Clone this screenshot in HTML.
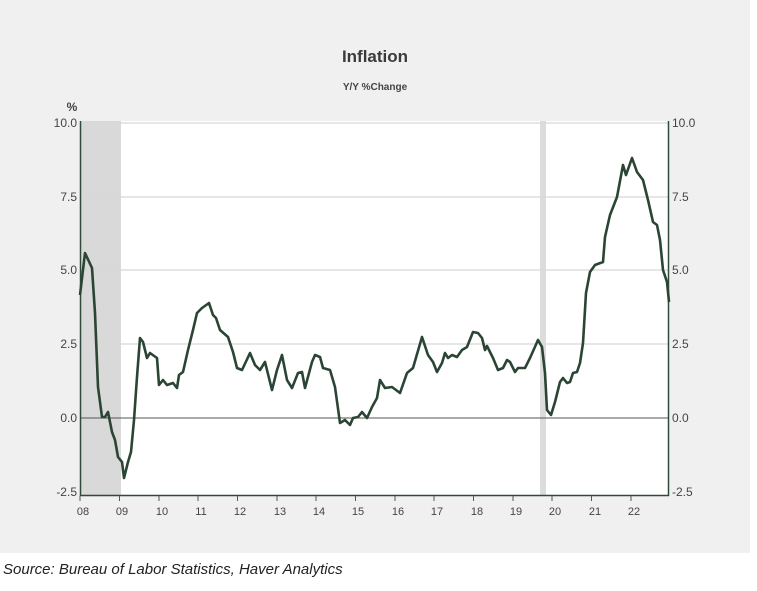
<!DOCTYPE html>
<html><head><style>
body{margin:0;background:#fff;width:757px;height:586px;overflow:hidden;font-family:"Liberation Sans",sans-serif}
</style></head><body>
<svg width="757" height="586" xmlns="http://www.w3.org/2000/svg" font-family="Liberation Sans, DejaVu Sans, sans-serif">
<rect x="0" y="0" width="750" height="553" fill="#f0f0f0"/>
<rect x="80" y="121" width="588" height="374" fill="#fff"/>
<rect x="81" y="121" width="40" height="374" fill="#d9d9d9"/>
<rect x="540" y="121" width="6" height="374" fill="#dcdcdc"/>
<g stroke="#d8d8d8" stroke-width="1.2">
<line x1="80" y1="123" x2="668" y2="123"/><line x1="80" y1="197" x2="668" y2="197"/>
<line x1="80" y1="270" x2="668" y2="270"/><line x1="80" y1="344" x2="668" y2="344"/>
</g>
<line x1="80" y1="418" x2="668" y2="418" stroke="#555" stroke-width="1"/>
<g stroke="#2f4a3a" stroke-width="1.5">
<line x1="80.5" y1="121" x2="80.5" y2="496"/><line x1="668.5" y1="121" x2="668.5" y2="496"/>
<line x1="80" y1="495.5" x2="669" y2="495.5"/>
</g>
<g stroke="#555" stroke-width="1">
<path d="M80 496v5M119.5 496v5M159 496v5M198 496v5M237.5 496v5M277 496v5M316 496v5M355.5 496v5M395 496v5M434 496v5M473.5 496v5M513 496v5M552 496v5M591.5 496v5M631 496v5"/>
</g>
<polyline fill="none" stroke="#2b4535" stroke-width="2.6" stroke-linejoin="round" points="80,295 85,253 92,268 95,313 98,387 102,417 105,417 108,412 112,432 115,440 118,457 122,462 124,478 128,462 131,452 134,420 137,377 140,338 143,342 147,358 150,353 157,358 159,385 163,380 167,385 173,383 177,388 179,375 183,372 188,350 193,330 197,313 202,308 209,303 213,315 216,318 220,330 228,337 233,352 237,368 242,370 250,353 255,365 260,370 265,362 272,390 277,370 282,355 287,380 292,388 298,373 302,372 305,388 312,362 315,355 320,357 323,368 330,370 335,387 340,423 345,420 350,425 353,418 358,417 362,412 367,418 372,407 377,398 380,380 385,388 392,387 400,393 407,373 413,368 422,337 428,355 433,362 437,372 442,363 445,353 448,358 452,355 457,357 462,350 467,347 473,332 478,333 482,338 485,350 487,346 493,358 498,370 503,368 507,360 510,362 515,372 518,368 525,368 530,358 538,340 542,347 545,373 547,410 551,415 555,402 560,382 563,378 567,383 570,382 573,373 577,372 580,363 583,343 586,293 590,272 595,265 603,262 605,237 610,215 617,197 623,165 626,175 632,158 637,172 643,180 648,200 653,222 657,225 660,240 663,270 667,282 669,302"/>
<text x="375" y="62" font-size="17" font-weight="bold" fill="#3a3a3a" text-anchor="middle">Inflation</text>
<text x="375" y="90" font-size="10" font-weight="bold" fill="#444" text-anchor="middle">Y/Y %Change</text>
<text x="72" y="111" font-size="12" font-weight="bold" fill="#444" text-anchor="middle">%</text>
<g font-size="12" fill="#444" text-anchor="end">
<text x="77" y="127">10.0</text><text x="77" y="201">7.5</text><text x="77" y="274">5.0</text>
<text x="77" y="348">2.5</text><text x="77" y="422">0.0</text><text x="77" y="496">-2.5</text>
</g>
<g font-size="12" fill="#444">
<text x="672" y="127">10.0</text><text x="672" y="201">7.5</text><text x="672" y="274">5.0</text>
<text x="672" y="348">2.5</text><text x="672" y="422">0.0</text><text x="672" y="496">-2.5</text>
</g>
<g font-size="11" fill="#444" text-anchor="middle">
<text x="83" y="515">08</text><text x="122" y="515">09</text><text x="162" y="515">10</text><text x="201" y="515">11</text>
<text x="240" y="515">12</text><text x="280" y="515">13</text><text x="319" y="515">14</text><text x="358" y="515">15</text>
<text x="398" y="515">16</text><text x="437" y="515">17</text><text x="477" y="515">18</text><text x="516" y="515">19</text>
<text x="555" y="515">20</text><text x="595" y="515">21</text><text x="634" y="515">22</text>
</g>
<text x="3" y="574" font-size="15" font-style="italic" fill="#222">Source: Bureau of Labor Statistics, Haver Analytics</text>
</svg>
</body></html>
